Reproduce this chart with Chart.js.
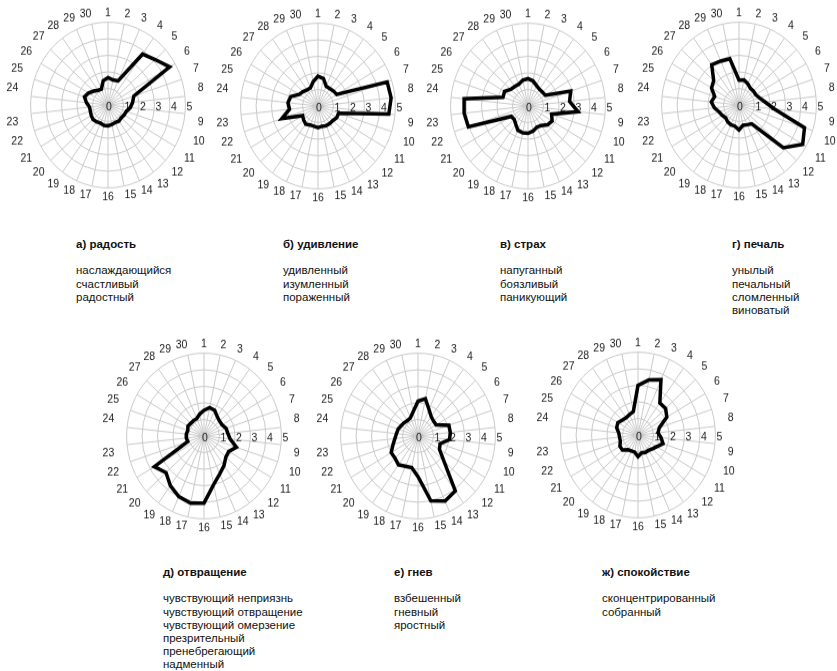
<!DOCTYPE html>
<html lang="ru">
<head>
<meta charset="utf-8">
<title>Радарные диаграммы эмоций</title>
<script src="https://cdn.jsdelivr.net/npm/chart.js@4.4.1/dist/chart.umd.min.js"></script>
<style>
  body { margin: 0; background: #fff; width: 837px; height: 671px; position: relative; overflow: hidden;
         font-family: "Liberation Sans", Arial, sans-serif; color: #111; }
  .chart { position: absolute; width: 206px; height: 184px; transform: scaleY(1.07); }
  .caption { position: absolute; font-size: 11.5px; line-height: 13.2px; white-space: nowrap; }
  .caption .title { font-weight: bold; margin-bottom: 13.2px; }
</style>
</head>
<body>

<script>
// axis labels (categories) and value ticks
const axisLabels = ['1','2','3','4','5','6','7','8','9','10','11','12','13','14','15',
                    '16','17','18','19','20','21','22','23','24','25','26','27','28','29','30'];
const tickValues = [0, 1, 2, 3, 4, 5];

// values, axis 1..30
const joy      = [1.65, 1.55, 1.6, 3.8, 4.1, 4.6, 1.75, 1.6, 1.45, 1.25, 1.2, 1.15, 1.2, 1.15, 1.2,
                  1.25, 1.25, 1.2, 1.25, 1.3, 1.25, 1.2, 1.2, 1.4, 1.6, 1.45, 1.25, 1.1, 1.05, 1.5];
const surprise = [1.8, 1.7, 1.3, 1.3, 1.35, 1.4, 4.7, 4.75, 4.6, 1.4, 1.4, 1.3, 1.3, 1.3, 1.25,
                  1.3, 1.25, 1.25, 1.35, 1.25, 1.15, 2.45, 1.85, 1.95, 1.85, 1.4, 1.3, 1.2, 1.2, 1.5];
const fear     = [1.65, 1.55, 1.35, 1.25, 1.25, 1.3, 2.9, 2.7, 3.25, 1.6, 1.8, 1.7, 1.45, 1.4, 1.55,
                  1.65, 1.65, 1.6, 1.35, 1.2, 1.25, 4.05, 4.15, 4.15, 1.7, 1.75, 1.5, 1.45, 1.45, 1.6];
const sadness  = [1.5, 1.55, 1.4, 1.25, 1.25, 1.25, 1.4, 1.7, 2.3, 4.45, 4.75, 3.85, 1.4, 1.3, 1.25,
                  1.5, 1.3, 1.3, 1.25, 1.15, 1.25, 1.35, 1.6, 1.8, 1.65, 2.05, 2.2, 3.0, 2.9, 2.85];
const disgust  = [1.55, 1.75, 1.7, 1.45, 1.35, 1.35, 1.5, 1.55, 1.7, 2.2, 1.85, 1.9, 2.2, 2.5, 3.0,
                  4.05, 4.15, 4.0, 3.7, 3.3, 3.7, 1.1, 1.15, 1.15, 1.1, 1.2, 1.15, 1.15, 1.15, 1.35];
const anger    = [2.1, 2.3, 1.75, 1.45, 1.35, 1.35, 2.1, 2.1, 2.05, 1.5, 1.6, 2.25, 4.1, 4.3, 4.0,
                  2.45, 1.95, 2.0, 2.15, 2.0, 2.0, 1.7, 1.5, 1.4, 1.35, 1.25, 1.2, 1.15, 1.2, 1.5];
const calm     = [3.0, 3.4, 3.65, 2.4, 2.4, 2.15, 1.45, 1.3, 1.5, 1.7, 1.4, 1.25, 1.15, 1.15, 1.1,
                  1.3, 1.05, 1.05, 1.1, 1.35, 1.35, 1.2, 1.2, 1.25, 1.45, 1.5, 1.35, 1.3, 1.35, 1.45];

// captions
const titles = ['а) радость', 'б) удивление', 'в) страх', 'г) печаль', 'д) отвращение', 'е) гнев', 'ж) спокойствие'];
const words = [
  ['наслаждающийся', 'счастливый', 'радостный'],
  ['удивленный', 'изумленный', 'пораженный'],
  ['напуганный', 'боязливый', 'паникующий'],
  ['унылый', 'печальный', 'сломленный', 'виноватый'],
  ['чувствующий неприязнь', 'чувствующий отвращение', 'чувствующий омерзение', 'презрительный', 'пренебрегающий', 'надменный'],
  ['взбешенный', 'гневный', 'яростный'],
  ['сконцентрированный', 'собранный']
];
const series = [joy, surprise, fear, sadness, disgust, anger, calm];

// layout: chart centres and caption corners
const centres = [[108, 105], [318, 106], [528, 106], [739, 105], [204, 436], [418, 436], [638, 435]];
const captionPos = [[76, 238], [283, 238], [500, 238], [732, 238], [163, 566], [394, 566], [602, 566]];

const gridGrey = '#c9c9c9';

// value tick labels drawn horizontally to the right of the centre
const valueTicks = {
  id: 'valueTicks',
  beforeDatasetsDraw(chart) {
    const r = chart.scales.r;
    const ctx = chart.ctx;
    ctx.save();
    ctx.font = '10.5px "Liberation Sans", Arial, sans-serif';
    ctx.fillStyle = '#1a1a1a';
    ctx.textAlign = 'center';
    ctx.textBaseline = 'middle';
    tickValues.forEach(v => {
      const x = r.xCenter + r.getDistanceFromCenterForValue(v) + (v === 0 ? 1 : 4);
      ctx.fillText(String(v), x, r.yCenter + 2);
    });
    ctx.restore();
  }
};

// labels sit closer to the circle at top/bottom than at the sides
function labelPadding(ctx) {
  const a = ctx.index * 2 * Math.PI / axisLabels.length;
  const s = Math.sin(a);
  return 2 + 11 * s * s;
}

function makeRadar(i) {
  const box = document.createElement('div');
  box.className = 'chart';
  box.style.left = (centres[i][0] - 105) + 'px';
  box.style.top = (centres[i][1] - 92) + 'px';
  const canvas = document.createElement('canvas');
  box.appendChild(canvas);
  document.body.appendChild(box);

  new Chart(canvas, {
    type: 'radar',
    data: {
      labels: axisLabels,
      datasets: [{
        data: series[i],
        borderColor: '#000',
        borderWidth: 3.5,
        pointRadius: 0,
        fill: false
      }]
    },
    options: {
      responsive: true,
      maintainAspectRatio: false,
      animation: false,
      plugins: { legend: { display: false }, tooltip: { enabled: false } },
      scales: {
        r: {
          min: 0,
          max: 5,
          ticks: { stepSize: 1, display: false },
          grid: { circular: true, color: gridGrey, lineWidth: 1 },
          angleLines: { color: gridGrey, lineWidth: 1 },
          pointLabels: {
            padding: labelPadding,
            color: '#1a1a1a',
            font: { size: 10.5, family: '"Liberation Sans", Arial, sans-serif' }
          }
        }
      }
    },
    plugins: [valueTicks]
  });

  const cap = document.createElement('div');
  cap.className = 'caption';
  cap.style.left = captionPos[i][0] + 'px';
  cap.style.top = captionPos[i][1] + 'px';
  const t = document.createElement('div');
  t.className = 'title';
  t.textContent = titles[i];
  cap.appendChild(t);
  words[i].forEach(w => {
    const line = document.createElement('div');
    line.textContent = w;
    cap.appendChild(line);
  });
  document.body.appendChild(cap);
}

for (let i = 0; i < series.length; i++) makeRadar(i);
</script>
</body>
</html>
